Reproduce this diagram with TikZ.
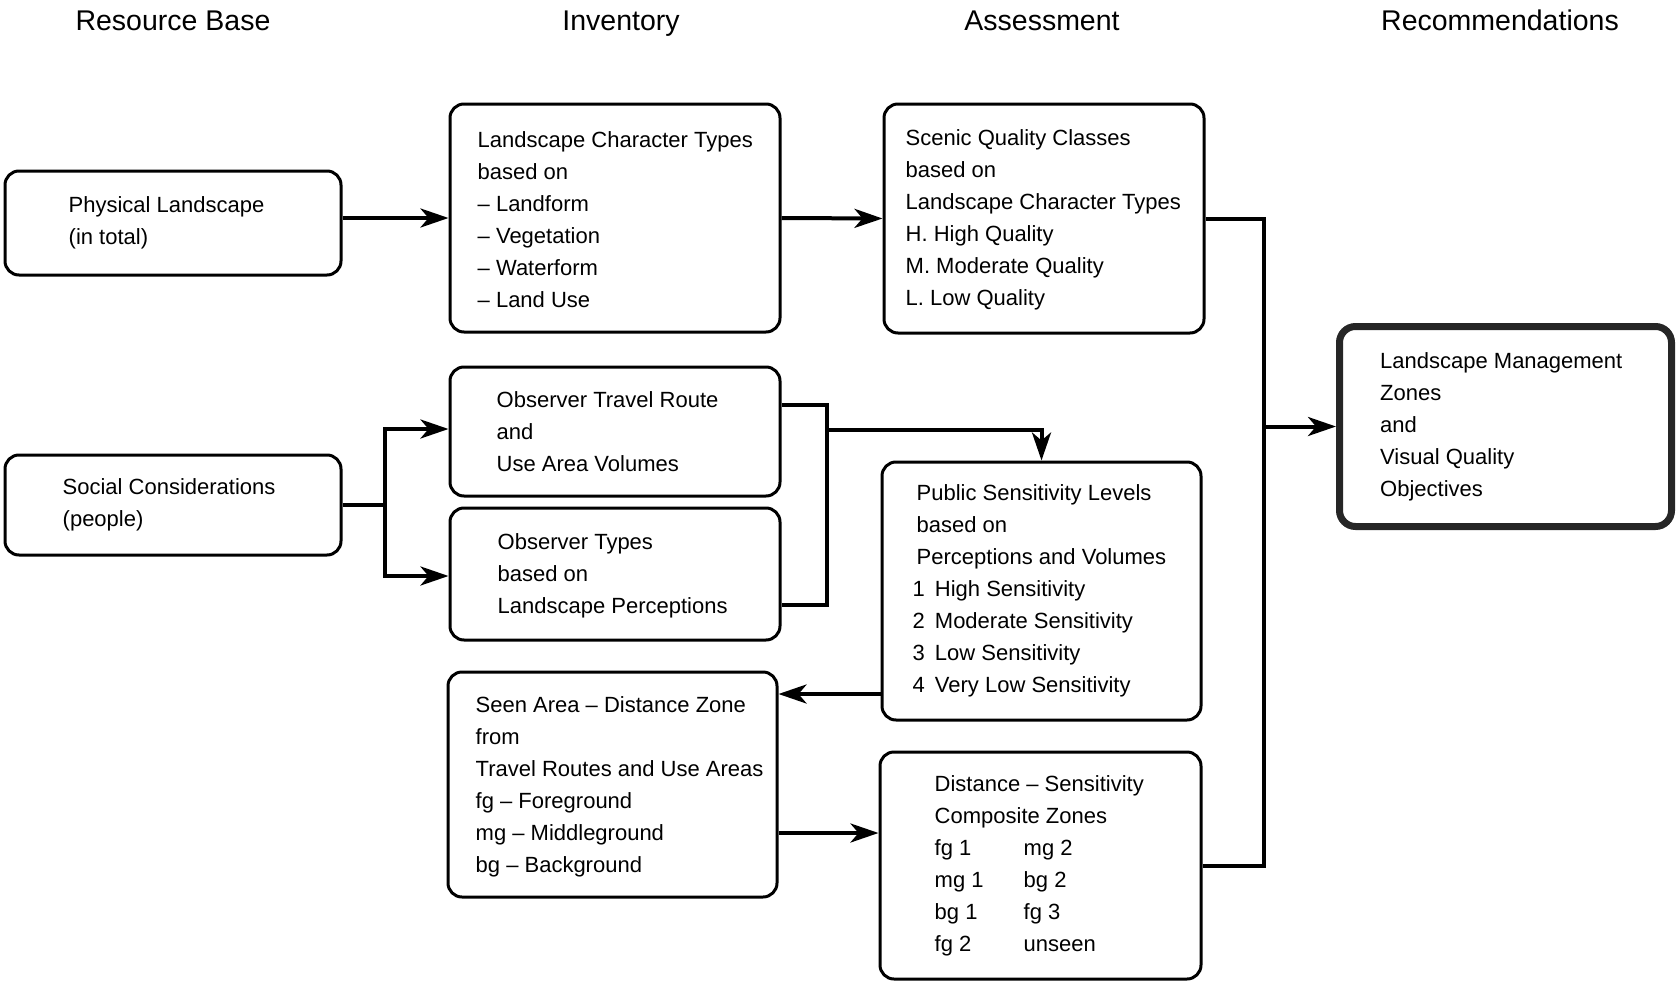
\documentclass[tikz,border=0pt]{standalone}
\usepackage{fontspec}
\setmainfont{Liberation Sans}
\usetikzlibrary{arrows.meta}
\tikzset{
  box/.style={draw=black, line width=3pt, rounded corners=14pt, inner sep=0pt, fill=white},
  bigbox/.style={draw=black!85, line width=7pt, rounded corners=16pt, inner sep=0pt},
  txt/.style={inner sep=0pt, align=left, anchor=west, font=\fontsize{22}{32}\selectfont},
  head/.style={inner sep=0pt, anchor=base, font=\fontsize{28.5}{32}\selectfont},
  conn/.style={line width=4pt, line join=miter},
  arr/.style={conn, -{Stealth[length=28pt, width=19pt, inset=8pt]}}
}
\begin{document}
\begin{tikzpicture}[x=1pt, y=-1pt]
\useasboundingbox (0,0) rectangle (1679,982);
% headers
\node[head] (h1) at (173,31) {Resource Base};
\node[head] (h2) at (621,31) {Inventory};
\node[head] (h3) at (1042,31) {Assessment};
\node[head] (h4) at (1500,31) {Recommendations};
% boxes
\node[box, minimum width=336pt, minimum height=104pt] (phys) at (173,223) {};
\node[txt] (physT) at ([xshift=65pt]phys.west) {Physical Landscape\\(in total)};
\node[box, minimum width=336pt, minimum height=100pt] (soc) at (173,505) {};
\node[txt] (socT) at ([xshift=59pt]soc.west) {Social Considerations\\(people)};
\node[box, minimum width=330pt, minimum height=228pt] (lct) at (615,218) {};
\node[txt] (lctT) at ([xshift=29pt,yshift=-1.5pt]lct.west) {Landscape Character Types\\based on\\-- Landform\\-- Vegetation\\-- Waterform\\-- Land Use};
\node[box, minimum width=320pt, minimum height=229pt] (sqc) at (1044,218.5) {};
\node[txt] (sqcT) at ([xshift=23pt,yshift=-1.5pt]sqc.west) {Scenic Quality Classes\\based on\\Landscape Character Types\\H. High Quality\\M. Moderate Quality\\L. Low Quality};
\node[bigbox, minimum width=332pt, minimum height=200pt] (lmz) at (1505.5,426.5) {};
\node[txt] (lmzT) at ([xshift=44pt]lmz.west) {Landscape Management\\Zones\\and\\Visual Quality\\Objectives};
\node[box, minimum width=330pt, minimum height=129pt] (otr) at (615,431.5) {};
\node[txt] (otrT) at ([xshift=48pt]otr.west) {Observer Travel Route\\and\\Use Area Volumes};
\node[box, minimum width=330pt, minimum height=132pt] (ot) at (615,574) {};
\node[txt] (otT) at ([xshift=49pt,yshift=-2pt]ot.west) {Observer Types\\based on\\Landscape Perceptions};
\node[box, minimum width=319pt, minimum height=258pt] (psl) at (1041.5,591) {};
\node[txt] (pslT) at ([xshift=32pt]psl.west) {\hspace{4pt}Public Sensitivity Levels\\\hspace{4pt}based on\\\hspace{4pt}Perceptions and Volumes\\1\hspace{10pt}High Sensitivity\\2\hspace{10pt}Moderate Sensitivity\\3\hspace{10pt}Low Sensitivity\\4\hspace{10pt}Very Low Sensitivity};
\node[box, minimum width=329pt, minimum height=225pt] (sad) at (612.5,784.5) {};
\node[txt] (sadT) at ([xshift=29pt,yshift=-2pt]sad.west) {Seen Area -- Distance Zone\\from\\Travel Routes and Use Areas\\fg -- Foreground\\mg -- Middleground\\bg -- Background};
\node[box, minimum width=321pt, minimum height=227pt] (dsc) at (1040.5,865.5) {};
\node[txt] (dscT) at ([xshift=56pt]dsc.west) {Distance -- Sensitivity\\Composite Zones\\\makebox[89pt][l]{fg 1}mg 2\\\makebox[89pt][l]{mg 1}bg 2\\\makebox[89pt][l]{bg 1}fg 3\\\makebox[89pt][l]{fg 2}unseen};
% connectors
\draw[arr] (phys.east |- lct.west) -- (lct.west);
\draw[arr] (lct.east) -- (sqc.west);
\coordinate (tr) at (1264,218.5);
\draw[conn] (sqc.east) -- (tr) -- (tr |- dsc.east) -- (dsc.east);
\draw[arr] (tr |- lmz.west) -- (lmz.west);
\coordinate (sj) at (385,505);
\draw[conn] (soc.east) -- (sj);
\draw[arr] (sj) |- ([yshift=2.5pt]otr.west);
\draw[arr] (sj) |- ([yshift=-2pt]ot.west);
\coordinate (oj) at (827,430);
\draw[conn] ([yshift=26.5pt]otr.east) -| (oj) |- ([yshift=-31pt]ot.east);
\draw[arr] (oj) -| (psl.north);
\path ([yshift=-103pt]psl.west) coordinate (pa);
\draw[arr] (pa) -- (sad.east |- pa);
\path ([yshift=-48.5pt]sad.east) coordinate (sa);
\draw[arr] (sa) -- (dsc.west |- sa);
\end{tikzpicture}
\end{document}
